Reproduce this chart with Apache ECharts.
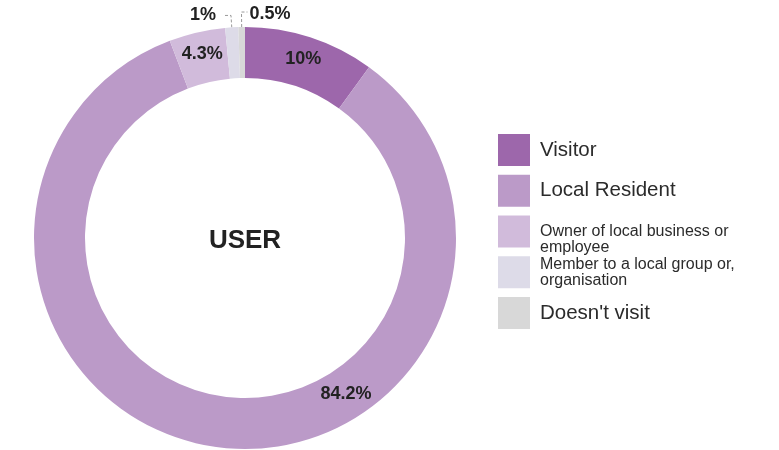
<!DOCTYPE html>
<html>
<head>
<meta charset="utf-8">
<script src="https://cdn.jsdelivr.net/npm/echarts@6/dist/echarts.min.js"></script>
<style>
  html, body { margin: 0; padding: 0; background: #fff; }
  #chart { width: 779px; height: 450px; }
</style>
</head>
<body>
<div id="chart"></div>
<script>
// 数据
const categories = [
  'Visitor',
  'Local Resident',
  'Owner of local business or\nemployee',
  'Member to a local group or,\norganisation',
  "Doesn't visit"
]
const shares = [10, 84.2, 4.3, 1, 0.5]
const colors = ['#9d67ab', '#bb9ac8', '#d1bbdb', '#dddbe8', '#d8d8d8']

// 布局
const CX = 245
const CY = 238
const R_IN = 160
const R_OUT = 211
const BIG_LABEL_ANGLE = 147   // 84.2% 标签放在右下方
const FONT = '"Liberation Sans", Arial, Helvetica, sans-serif'

const chart = echarts.init(document.getElementById('chart'))

const pieData = categories.map((name, i) => {
  const outside = shares[i] < 2
  return {
    name: name,
    value: shares[i],
    itemStyle: { color: colors[i] },
    label: { position: outside ? 'outside' : 'inside' },
    labelLine: { show: outside }
  }
})

// 每个图例单独一块, 方便对齐
const legends = categories.map((name, i) => {
  const twoLine = name.indexOf('\n') >= 0
  // "Owner..." 文字比色块低半行
  const padTop = i === 2
  return {
    orient: 'vertical',
    left: 498,
    top: 134 + i * 40.75 - (padTop ? 8 : 0),
    padding: 0,
    itemWidth: 32,
    itemHeight: 32,
    selectedMode: false,
    data: [{ name: name, icon: 'rect' }],
    formatter: n => (padTop ? '\n' : '') + n,
    textStyle: {
      fontFamily: FONT,
      color: '#2b2b2b',
      fontSize: twoLine ? 16 : 20.5,
      lineHeight: twoLine ? 16 : 22,
      padding: [0, 0, 0, 5]
    }
  }
})

chart.setOption({
  animation: false,
  legend: legends,
  graphic: [{
    type: 'text',
    x: CX,
    y: CY + 3,
    style: {
      text: 'USER',
      align: 'center',
      verticalAlign: 'middle',
      fill: '#222',
      font: 'bold 26px ' + FONT
    }
  }],
  series: [{
    type: 'pie',
    center: [CX, CY],
    radius: [R_IN, R_OUT],
    startAngle: 90,
    clockwise: true,
    avoidLabelOverlap: false,
    label: {
      formatter: '{c}%',
      fontFamily: FONT,
      fontWeight: 'bold',
      fontSize: 18,
      color: '#222',
      distanceToLabelLine: 9
    },
    labelLine: {
      length: 12,
      length2: 6,
      lineStyle: { color: '#999', type: [3, 2], width: 1 }
    },
    labelLayout: function (p) {
      if (p.dataIndex === 1) {
        const a = BIG_LABEL_ANGLE * Math.PI / 180
        const rm = (R_IN + R_OUT) / 2
        return {
          x: CX + rm * Math.sin(a),
          y: CY - rm * Math.cos(a),
          align: 'center',
          verticalAlign: 'middle'
        }
      }
      if (p.dataIndex === 4 && p.labelLinePoints) {
        // 0.5% 的引线折向右边
        const pts = p.labelLinePoints
        const p1 = pts[1]
        const end = [p1[0] + Math.abs(pts[2][0] - p1[0]), p1[1] - 3]
        return {
          x: end[0] + 2,
          y: end[1] + 2,
          align: 'left',
          verticalAlign: 'middle',
          labelLinePoints: [pts[0], [p1[0], end[1]], end]
        }
      }
    },
    emphasis: { disabled: true },
    data: pieData
  }]
})
</script>
</body>
</html>
